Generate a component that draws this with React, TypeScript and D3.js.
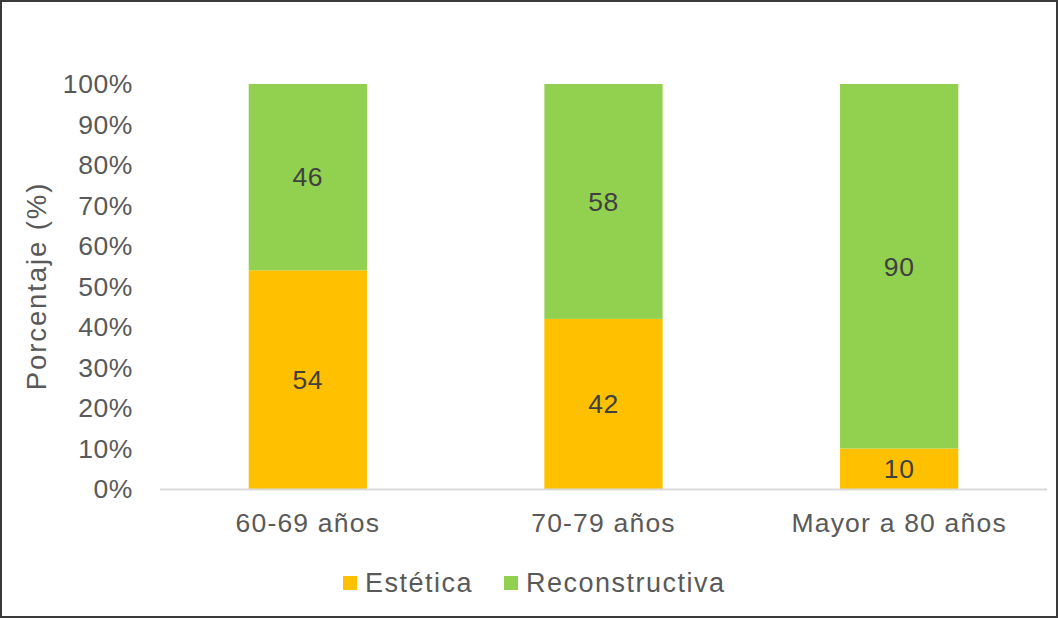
import React from 'react';
import * as d3 from 'd3';

const categories = ['60-69 años', '70-79 años', 'Mayor a 80 años'];
const estetica = [54, 42, 10];
const reconstructiva = [46, 58, 90];
const yTicks = [0, 0.1, 0.2, 0.3, 0.4, 0.5, 0.6, 0.7, 0.8, 0.9, 1];
const seriesNames = ['Estética', 'Reconstructiva'];
const seriesColors = ['#FFC000', '#92D050'];

const W = 1058;
const H = 618;
const font = '"Liberation Sans", Arial, sans-serif';

export default function App() {
  const x = d3.scaleBand<string>()
    .domain(categories)
    .range([160, 1047])
    .paddingInner(0.6)
    .paddingOuter(0.3);

  const y = d3.scaleLinear().domain([0, 1]).range([489, 84]);
  const pct = d3.format('.0%');

  const rows = categories.map((c, i) => ({ cat: c, Estética: estetica[i], Reconstructiva: reconstructiva[i] }));
  const stack = d3.stack<any>().keys(seriesNames).offset(d3.stackOffsetExpand);
  const layers = stack(rows);

  return (
    <svg width={W} height={H} style={{ position: 'absolute', left: 0, top: 0, background: '#fff' }}>
      <rect x={1} y={1} width={W - 2} height={H - 2} fill="#fff" stroke="#3a3a3a" strokeWidth={2} />

      {/* y tick labels */}
      {yTicks.map(t => (
        <text key={t} x={133} y={y(t)} dy="0.35em" textAnchor="end"
          fontFamily={font} fontSize={26.5} letterSpacing={0.6} fill="#595959">
          {pct(t)}
        </text>
      ))}

      <text transform={`translate(46,286) rotate(-90)`} textAnchor="middle"
        fontFamily={font} fontSize={27.5} letterSpacing={1.9} fill="#595959">
        Porcentaje (%)
      </text>

      {/* bars */}
      {layers.map((layer, li) => (
        <g key={layer.key} fill={seriesColors[li]}>
          {layer.map((d, i) => (
            <rect key={i} x={x(categories[i])} y={y(d[1])}
              width={x.bandwidth()} height={y(d[0]) - y(d[1])} />
          ))}
        </g>
      ))}

      {/* data labels */}
      {layers.map((layer, li) => (
        <g key={'l' + layer.key}>
          {layer.map((d, i) => (
            <text key={i} x={(x(categories[i]) as number) + x.bandwidth() / 2}
              y={(y(d[0]) + y(d[1])) / 2} dy="0.35em" textAnchor="middle"
              fontFamily={font} fontSize={26.5} letterSpacing={0.6} fill="#404040">
              {li === 0 ? estetica[i] : reconstructiva[i]}
            </text>
          ))}
        </g>
      ))}

      {/* baseline */}
      <line x1={160} x2={1047} y1={y(0) + 0.5} y2={y(0) + 0.5} stroke="#d9d9d9" strokeWidth={2} />

      {/* category labels */}
      {categories.map(c => (
        <text key={c} x={(x(c) as number) + x.bandwidth() / 2} y={532} textAnchor="middle"
          fontFamily={font} fontSize={26.5} letterSpacing={1.2} fill="#595959">
          {c}
        </text>
      ))}

      {/* legend */}
      {seriesNames.map((s, i) => {
        const lx = i === 0 ? 343 : 504;
        return (
          <g key={s}>
            <rect x={lx} y={576} width={14} height={14} fill={seriesColors[i]} />
            <text x={lx + 22} y={592} fontFamily={font} fontSize={27} letterSpacing={1.5} fill="#595959">
              {s}
            </text>
          </g>
        );
      })}
    </svg>
  );
}
